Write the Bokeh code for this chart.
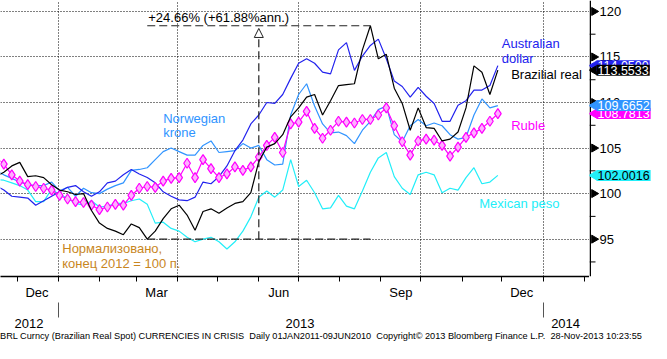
import numpy as np
import pandas as pd
from bokeh.plotting import figure
from bokeh.models import (ColumnDataSource, Range1d, LinearAxis, FixedTicker, Label,
                          Arrow, NormalHead, Div)
from bokeh.layouts import row, column
from bokeh.core.properties import value
from bokeh.embed import file_html
from bokeh.resources import INLINE

# ---------------- data (normalised, end 2012 = 100) ----------------
dates = pd.date_range("2012-11-15", periods=64, freq="6D")

brl = [101.86, 102.35, 103.04, 103.43, 101.86, 101.96, 101.76, 100.98, 100.39, 100.20,
       99.90, 100.00, 98.14, 96.76, 96.18, 95.88, 95.49, 96.67, 96.27, 95.00,
       95.88, 97.25, 98.33, 98.73, 97.65, 95.98, 98.04, 98.33, 97.84, 98.43,
       98.92, 99.12, 100.10, 103.53, 105.10, 105.49, 106.47, 108.43, 109.41, 110.59,
       110.88, 108.63, 110.20, 111.86, 111.96, 112.06, 115.78, 118.43, 114.80, 115.29,
       111.57, 109.90, 106.96, 109.41, 107.25, 107.16, 105.78, 105.98, 106.76, 109.41,
       114.02, 113.33, 110.88, 113.5533]
aud = [100.88, 100.39, 99.71, 99.61, 99.51, 98.73, 99.22, 99.71, 100.20, 100.69,
       100.88, 100.20, 99.71, 100.20, 101.18, 101.37, 102.06, 102.65, 102.16, 101.76,
       101.18, 100.20, 99.71, 99.31, 99.22, 99.61, 101.27, 101.08, 101.86, 103.04,
       104.71, 105.88, 107.65, 108.63, 110.00, 109.90, 110.88, 112.65, 114.31, 114.80,
       114.31, 113.33, 113.14, 115.78, 116.57, 113.53, 115.10, 116.27, 116.96, 114.80,
       112.35, 111.76, 110.59, 111.67, 110.69, 109.90, 107.94, 107.94, 109.71, 110.20,
       111.37, 111.37, 111.86, 114.05]
nok = [102.55, 102.06, 101.67, 101.27, 100.98, 100.88, 100.88, 101.27, 100.30, 100.69,
       99.71, 100.59, 100.10, 100.00, 100.49, 100.88, 101.18, 102.55, 102.65, 102.84,
       103.73, 104.61, 105.00, 104.61, 104.22, 104.22, 105.29, 105.78, 104.51, 104.61,
       104.71, 105.49, 105.00, 105.29, 103.73, 103.14, 103.24, 108.63, 110.88, 112.06,
       109.61, 107.65, 106.67, 106.76, 106.37, 105.49, 106.96, 107.94, 109.22, 109.61,
       106.47, 105.69, 107.45, 108.14, 107.45, 107.75, 107.45, 106.47, 105.98, 106.18,
       108.63, 110.39, 109.41, 109.6652]
mxn = [101.57, 101.47, 101.18, 100.88, 100.39, 99.12, 99.12, 100.49, 99.90, 99.51,
       98.92, 98.73, 99.22, 98.53, 98.63, 98.92, 98.92, 99.22, 99.41, 98.82,
       96.76, 96.86, 96.18, 95.88, 95.20, 94.71, 95.00, 95.20, 94.71, 93.92,
       94.71, 95.88, 97.45, 99.61, 100.29, 99.61, 100.39, 103.73, 100.78, 101.47,
       100.10, 98.33, 98.43, 99.80, 98.63, 98.33, 100.29, 102.35, 103.92, 104.51,
       101.86, 100.59, 99.90, 102.06, 102.35, 102.06, 100.10, 100.59, 100.39, 101.76,
       102.84, 101.08, 101.27, 102.0016]
rub = [104.02, 103.24, 102.06, 101.37, 100.98, 100.78, 100.59, 100.39, 99.80, 99.41,
       99.12, 99.02, 98.73, 98.24, 98.53, 98.82, 98.73, 99.80, 100.59, 100.78,
       100.69, 101.37, 101.67, 101.76, 103.33, 101.76, 103.73, 102.75, 101.76, 102.16,
       102.94, 102.55, 102.94, 104.02, 105.29, 106.18, 104.51, 107.65, 107.84, 109.02,
       107.16, 106.08, 106.96, 107.94, 107.84, 107.75, 108.14, 108.14, 108.63, 109.41,
       107.45, 105.69, 104.22, 105.78, 105.98, 105.88, 105.29, 104.12, 105.10, 106.18,
       106.67, 107.16, 107.94, 108.7813]

y_ticks = [95, 100, 105, 110, 115, 120]
y_minor = [92.5, 97.5, 102.5, 107.5, 112.5, 117.5]
month_labels = ["Dec", "Mar", "Jun", "Sep", "Dec"]
month_label_dates = ["2012-12-16", "2013-03-16", "2013-06-16", "2013-09-16", "2013-12-16"]
year_labels = ["2012", "2013", "2014"]
year_label_dates = ["2012-12-10", "2013-07-02", "2014-01-18"]
year_breaks = ["2013-01-01", "2014-01-01"]
grid_dates = ["2013-01-01", "2013-04-01", "2013-07-01", "2013-10-01", "2014-01-01"]
month_starts = pd.date_range("2012-12-01", "2014-02-01", freq="MS")

FONT = "Liberation Sans"
C_AUD = "#2222ee"
C_NOK = "#3094ff"
C_BRL = "#000000"
C_RUB = "#ff00ff"
C_MXN = "#22eef8"

W_MAIN, W_SIDE, H_FIG, B_BOTTOM = 589, 62, 330, 38


def ms(d):
    return pd.Timestamp(d).value / 1e6


src = ColumnDataSource(dict(date=dates, brl=brl, aud=aud, nok=nok, mxn=mxn, rub=rub))

yrange = Range1d(90.9, 121.2)
p = figure(width=W_MAIN, height=H_FIG, output_backend="svg", toolbar_location=None,
           x_axis_type="datetime", y_axis_location=None,
           x_range=Range1d(ms("2012-11-18 12:00"), ms("2014-02-05")),
           y_range=yrange,
           min_border_left=0, min_border_right=0, min_border_top=0, min_border_bottom=B_BOTTOM,
           background_fill_color="white", border_fill_color="white")
p.outline_line_color = None

# ---- grids ----
p.xgrid[0].ticker = FixedTicker(ticks=[ms(d) for d in grid_dates])
p.ygrid[0].ticker = FixedTicker(ticks=y_ticks)
for g in (p.xgrid[0], p.ygrid[0]):
    g.grid_line_color = "black"
    g.grid_line_dash = "1 2"
    g.grid_line_width = 1

# ---- bottom month axis ----
ax = p.xaxis[0]
ax.ticker = FixedTicker(ticks=[ms(d) for d in month_label_dates],
                        minor_ticks=[ms(d) for d in month_starts])
ax.major_label_overrides = {ms(d): lab for d, lab in zip(month_label_dates, month_labels)}
ax.major_tick_out = 0
ax.major_tick_in = 0
ax.minor_tick_out = 5
ax.minor_tick_in = 0
ax.axis_line_color = "black"
ax.axis_line_width = 1.5
ax.major_label_text_font = FONT
ax.major_label_text_font_size = "13px"
ax.major_label_text_color = "black"
ax.major_label_standoff = 3

# ---- year axis ----
yr = LinearAxis(ticker=FixedTicker(ticks=[ms(d) for d in year_label_dates],
                                   minor_ticks=[ms(d) for d in year_breaks]))
yr.major_label_overrides = {ms(d): lab for d, lab in zip(year_label_dates, year_labels)}
yr.axis_line_color = None
yr.major_tick_line_color = None
yr.major_tick_out = 0
yr.minor_tick_out = 15
yr.minor_tick_in = 0
yr.minor_tick_line_color = "#555555"
yr.major_label_text_font = FONT
yr.major_label_text_font_size = "13px"
yr.major_label_text_color = "black"
yr.major_label_standoff = 1
p.add_layout(yr, "below")

# ---- series ----
p.line("date", "mxn", source=src, line_color=C_MXN, line_width=1.2)
p.line("date", "nok", source=src, line_color=C_NOK, line_width=1.2)
p.line("date", "aud", source=src, line_color=C_AUD, line_width=1.2)
p.line("date", "rub", source=src, line_color=C_RUB, line_width=1.2)
p.scatter("date", "rub", source=src, marker="diamond", size=10,
          line_color=C_RUB, fill_color="#ffb0ff", line_width=1.2)
p.line("date", "brl", source=src, line_color=C_BRL, line_width=1.2)

# ---- min/max annotation on BRL ----
imin = int(np.argmin(brl))
imax = int(np.argmax(brl))
d0, d1 = dates[imin], dates[imax]
dmid = d0 + (d1 - d0) / 2
p.segment(x0=[ms(d0), ms(d0)], y0=[brl[imin], brl[imax]],
          x1=[ms(d1), ms(d1)], y1=[brl[imin], brl[imax]],
          line_color="#222222", line_width=1.2, line_dash="8 4")
p.add_layout(Arrow(end=NormalHead(size=9, fill_color="white", line_color="#222222", line_width=1),
                   x_start=ms(dmid), y_start=brl[imin], x_end=ms(dmid), y_end=brl[imax] - 0.3,
                   line_color="#222222", line_width=1.2, line_dash="8 4"))
p.add_layout(Label(x=ms(d0), y=brl[imax], text="+24.66% (+61.88%ann.)",
                   text_font=FONT, text_font_size="13px", text_color="black",
                   text_baseline="bottom", x_offset=1, y_offset=1))


# ---- series names ----
def name(x, y, t, c):
    p.add_layout(Label(x=ms(x), y=y, text=t, text_font=FONT, text_font_size="13px",
                       text_color=c, text_baseline="top", text_align="left"))


name("2013-12-01", 117.3, "Australian", C_AUD)
name("2013-12-01", 115.7, "dollar", C_AUD)
name("2013-12-08", 113.85, "Brazilial real", C_BRL)
name("2013-12-08", 108.3, "Ruble", C_RUB)
name("2013-11-14", 99.75, "Mexican peso", C_MXN)
name("2013-03-21", 109.05, "Norwegian", C_NOK)
name("2013-03-21", 107.5, "krone", C_NOK)
name("2013-01-04", 94.75, "Нормализовано,", "#c8861e")
name("2013-01-04", 93.1, "конец 2012 = 100 п.", "#c8861e")

# ---------------- right-hand value scale (side panel sharing the y range) ----------------
p2 = figure(width=W_SIDE, height=H_FIG, output_backend="svg", toolbar_location=None,
            x_range=Range1d(0, W_SIDE), y_range=yrange,
            x_axis_location=None, y_axis_location=None,
            min_border_left=0, min_border_right=0, min_border_top=0, min_border_bottom=B_BOTTOM,
            background_fill_color="white", border_fill_color="white")
p2.outline_line_color = None
p2.grid.visible = False

# scale line, minor ticks, arrow-shaped major ticks and tick labels
p2.segment(x0=[0.75], x1=[0.75], y0=[yrange.start], y1=[yrange.end],
           line_color="black", line_width=1.5)
p2.segment(x0=[0] * len(y_minor), x1=[6] * len(y_minor), y0=y_minor, y1=y_minor,
           line_color="black", line_width=1)
p2.scatter(x=[4.5] * len(y_ticks), y=y_ticks, marker="triangle", angle=-np.pi / 2, size=8,
           fill_color="black", line_color="black")
tick_src = ColumnDataSource(dict(y=y_ticks, t=[str(v) for v in y_ticks], x=[10] * len(y_ticks)))
p2.text(x="x", y="y", text="t", source=tick_src, text_font=value(FONT),
        text_font_size=value("13px"), text_baseline="middle", text_align="left",
        text_color="black")

# last-value boxes
last_series = [(aud, C_AUD, "white"), (brl, "black", "white"),
               (rub, C_RUB, "white"), (nok, C_NOK, "white"), (mxn, C_MXN, "black")]
ptr_src = ColumnDataSource(dict(y=[s[0][-1] for s in last_series],
                                c=[s[1] for s in last_series],
                                x=[4.5] * len(last_series)))
p2.scatter(x="x", y="y", source=ptr_src, marker="triangle", angle=np.pi / 2, size=9,
           fill_color="c", line_color="c")
for vals, bg, fg in last_series:
    p2.add_layout(Label(x=7, y=vals[-1], text=f"{vals[-1]:.4f}", text_font=FONT,
                        text_font_size="12.5px", text_color=fg, text_baseline="middle",
                        text_align="left", background_fill_color=bg, padding=1))

footer = Div(text="BRL Curncy (Brazilian Real Spot) CURRENCIES IN CRISIS  Daily 01JAN2011-09JUN2010  "
                  "Copyright\u00a9 2013 Bloomberg Finance L.P.  28-Nov-2013 10:23:55",
             width=W_MAIN + W_SIDE, height=13, margin=(0, 0, 0, 0),
             styles={"font-family": FONT, "font-size": "9.2px", "white-space": "pre",
                     "color": "black", "line-height": "13px"})

layout = column(row(p, p2, spacing=0), footer, spacing=0)
open("out.html", "w").write(file_html(layout, INLINE))
